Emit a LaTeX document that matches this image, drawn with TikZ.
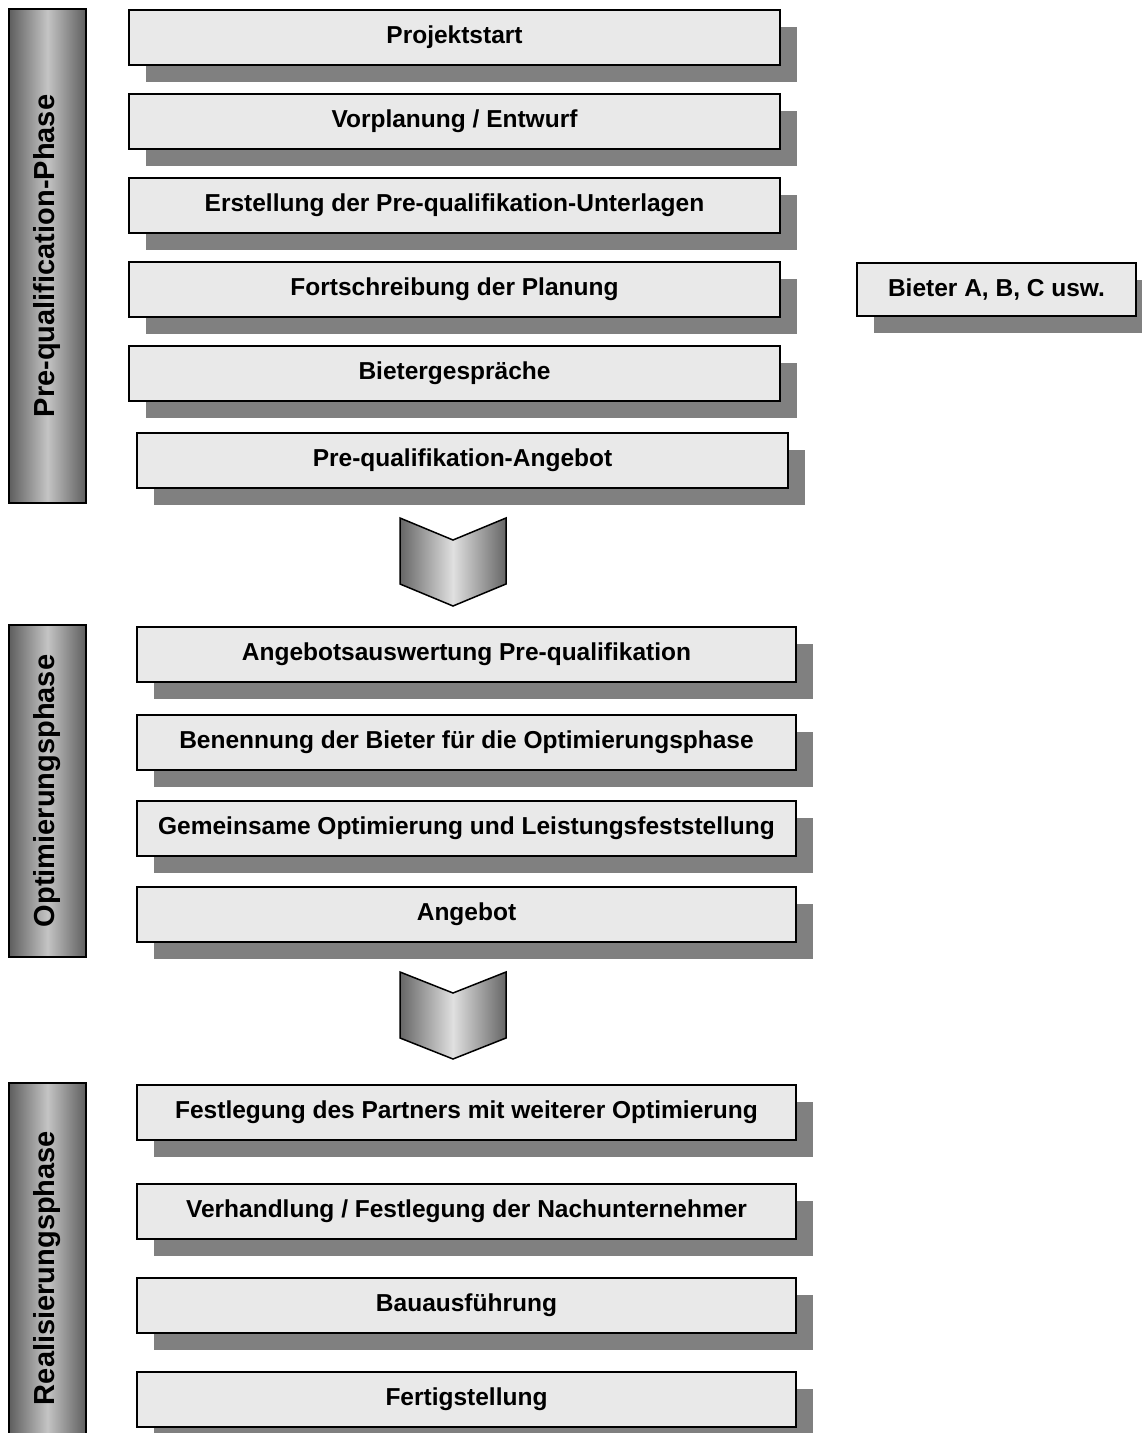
\documentclass[tikz,border=0pt]{standalone}
\usepackage{fontspec}
\setmainfont{Liberation Sans}
\usetikzlibrary{shadows}
\definecolor{boxfill}{HTML}{E9E9E9}
\definecolor{shadowgray}{HTML}{808080}
\definecolor{bardark}{HTML}{5E5E5E}
\definecolor{barlight}{HTML}{C4C4C4}
\definecolor{chevdark}{HTML}{666666}
\definecolor{chevlight}{HTML}{E0E0E0}
\begin{document}
\begin{tikzpicture}[x=1pt,y=-1pt,
  stepbox/.style={draw=black, line width=2pt, fill=boxfill, anchor=north west,
    minimum height=55pt, inner sep=0pt,
    font=\fontsize{24.5}{29}\selectfont\bfseries,
    general shadow={fill=shadowgray, shadow xshift=17pt, shadow yshift=-17pt}},
  phasebar/.style={draw=black, line width=1.5pt, rotate=90, minimum height=77pt,
    inner sep=0pt, left color=bardark, right color=bardark, middle color=barlight,
    font=\fontsize{29}{34}\selectfont\bfseries},
  chevron/.style={draw=black, line width=1.5pt, left color=chevdark,
    right color=chevdark, middle color=chevlight}]
\useasboundingbox (0,0) rectangle (1142,1433);

% phase bars
\node[phasebar, minimum width=494pt] (p1) at (47.5,256) {Pre-qualification-Phase};
\node[phasebar, minimum width=332pt] (p2) at (47.5,791) {Optimierungsphase};
\node[phasebar, minimum width=370pt] (p3) at (47.5,1268) {Realisierungsphase};

% pre-qualification steps
\node[stepbox, minimum width=651pt] (a1) at (128,9) {Projektstart};
\node[stepbox, minimum width=651pt] (a2) at (128,93) {Vorplanung / Entwurf};
\node[stepbox, minimum width=651pt] (a3) at (128,177) {Erstellung der Pre-qualifikation-Unterlagen};
\node[stepbox, minimum width=651pt] (a4) at (128,261) {Fortschreibung der Planung};
\node[stepbox, minimum width=651pt] (a5) at (128,345) {Bietergespräche};
\node[stepbox, minimum width=651pt] (a6) at (136,432) {Pre-qualifikation-Angebot};
\node[stepbox, minimum width=279pt, minimum height=53pt] (bieter) at (856,262) {Bieter A, B, C usw.};

% transition arrows
\shade[chevron] (400,518) -- (453,540) -- (506,518) -- (506,584) -- (453,606) -- (400,584) -- cycle;
\shade[chevron] (400,972) -- (453,993) -- (506,972) -- (506,1038) -- (453,1059) -- (400,1038) -- cycle;

% optimisation steps
\node[stepbox, minimum width=659pt] (b1) at (136,626) {Angebotsauswertung Pre-qualifikation};
\node[stepbox, minimum width=659pt] (b2) at (136,714) {Benennung der Bieter für die Optimierungsphase};
\node[stepbox, minimum width=659pt] (b3) at (136,800) {Gemeinsame Optimierung und Leistungsfeststellung};
\node[stepbox, minimum width=659pt] (b4) at (136,886) {Angebot};

% realisation steps
\node[stepbox, minimum width=659pt] (c1) at (136,1084) {Festlegung des Partners mit weiterer Optimierung};
\node[stepbox, minimum width=659pt] (c2) at (136,1183) {Verhandlung / Festlegung der Nachunternehmer};
\node[stepbox, minimum width=659pt] (c3) at (136,1277) {Bauausführung};
\node[stepbox, minimum width=659pt] (c4) at (136,1371) {Fertigstellung};
\end{tikzpicture}
\end{document}
